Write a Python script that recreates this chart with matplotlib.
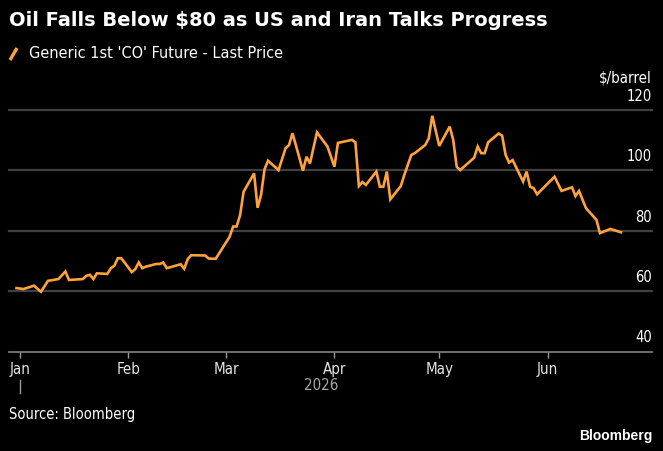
import matplotlib
matplotlib.use("Agg")
import matplotlib.pyplot as plt
import matplotlib.dates as mdates
import pandas as pd
from matplotlib.lines import Line2D

plt.rcParams['font.family'] = ['DejaVu Sans']
plt.rcParams['font.stretch'] = 'condensed'

# Brent front-month
dates = ["2025-12-31", "2026-01-02", "2026-01-05", "2026-01-07", "2026-01-09", "2026-01-12",
         "2026-01-14", "2026-01-15", "2026-01-19", "2026-01-20", "2026-01-21", "2026-01-22",
         "2026-01-23", "2026-01-26", "2026-01-27", "2026-01-28", "2026-01-29", "2026-01-30",
         "2026-02-02", "2026-02-03", "2026-02-04", "2026-02-05", "2026-02-06", "2026-02-09",
         "2026-02-10", "2026-02-11", "2026-02-12", "2026-02-16", "2026-02-17", "2026-02-18",
         "2026-02-19", "2026-02-23", "2026-02-24", "2026-02-26", "2026-03-02", "2026-03-03",
         "2026-03-04", "2026-03-05", "2026-03-06", "2026-03-09", "2026-03-10", "2026-03-11",
         "2026-03-12", "2026-03-13", "2026-03-16", "2026-03-18", "2026-03-19", "2026-03-20",
         "2026-03-23", "2026-03-24", "2026-03-25", "2026-03-27", "2026-03-30", "2026-04-01",
         "2026-04-02", "2026-04-06", "2026-04-07", "2026-04-08", "2026-04-09", "2026-04-10",
         "2026-04-13", "2026-04-14", "2026-04-15", "2026-04-16", "2026-04-17", "2026-04-20",
         "2026-04-21", "2026-04-23", "2026-04-24", "2026-04-27", "2026-04-28", "2026-04-29",
         "2026-05-01", "2026-05-04", "2026-05-05", "2026-05-06", "2026-05-07", "2026-05-11",
         "2026-05-12", "2026-05-13", "2026-05-14", "2026-05-15", "2026-05-18", "2026-05-19",
         "2026-05-20", "2026-05-21", "2026-05-22", "2026-05-25", "2026-05-26", "2026-05-27",
         "2026-05-28", "2026-05-29", "2026-06-03", "2026-06-05", "2026-06-08", "2026-06-09",
         "2026-06-10", "2026-06-12", "2026-06-15", "2026-06-16", "2026-06-19", "2026-06-22"]
prices = [61.0, 60.7, 61.8, 59.8, 63.4, 64.0,
          66.5, 63.7, 64.0, 65.1, 65.4, 64.0,
          65.9, 65.7, 67.6, 68.4, 70.9, 70.9,
          66.3, 67.3, 69.5, 67.6, 68.1, 69.0,
          69.0, 69.5, 67.6, 68.9, 67.4, 70.6,
          71.9, 71.8, 70.8, 70.7, 78.0, 81.4,
          81.4, 85.2, 92.9, 99.0, 87.6, 91.9,
          100.4, 103.2, 100.1, 107.3, 108.4, 112.3,
          99.9, 104.5, 102.3, 112.6, 107.9, 101.2,
          109.1, 110.1, 109.3, 94.8, 96.1, 95.2,
          99.6, 94.6, 94.6, 99.6, 90.4, 94.8,
          98.5, 105.1, 105.7, 108.4, 110.6, 118.1,
          108.1, 114.5, 110.1, 101.2, 100.1, 104.2,
          107.9, 105.7, 105.7, 109.3, 112.2, 111.5,
          105.1, 102.6, 103.4, 96.3, 99.6, 94.6,
          94.1, 92.1, 97.9, 93.2, 94.4, 91.5,
          93.2, 87.5, 83.6, 79.2, 80.6, 79.5]

yticks = [40, 60, 80, 100, 120]
month_ticks = ["2026-01-01", "2026-02-01", "2026-03-01", "2026-04-01", "2026-05-01", "2026-06-01"]
month_labels = ["Jan", "Feb", "Mar", "Apr", "May", "Jun"]

title = "Oil Falls Below $80 as US and Iran Talks Progress"
legend_label = "Generic 1st 'CO' Future - Last Price"

orange = "#FFA23A"
W, H = 663, 451

fig = plt.figure(figsize=(W / 100, H / 100), dpi=100, facecolor="black")
ax = fig.add_axes([9 / W, 1 - 351.5 / H, 643 / W, 241.5 / H])
ax.set_facecolor("black")

x = pd.to_datetime(dates)
ax.plot(x, prices, color=orange, lw=1.9, solid_joinstyle="miter", zorder=3)

start = mdates.date2num(pd.Timestamp("2026-01-01"))
ax.set_xlim(start - 3.15, start + 180.9)
ax.set_ylim(40, 120)

for v in yticks[1:]:
    ax.axhline(v, color="#404040", lw=1.6, zorder=1, clip_on=False)
for s in ["top", "right", "left"]:
    ax.spines[s].set_visible(False)
ax.spines["bottom"].set_color("#7a7a7a")
ax.spines["bottom"].set_linewidth(1.3)

ax.set_yticks([])
for v in yticks:
    ax.annotate(str(v), xy=(1, v), xycoords=("axes fraction", "data"),
                xytext=(0, 4.5), textcoords="offset points",
                ha="right", va="bottom", color="white", fontsize=10.5)

ax.set_xticks(pd.to_datetime(month_ticks))
ax.set_xticklabels(month_labels)
ax.tick_params(axis="x", direction="out", length=4.5, width=1, color="#9a9a9a",
               labelcolor="#e6e6e6", labelsize=10.8, pad=3)

fig.text(321 / W, 1 - 386 / H, "2026", color="#a8a8a8", fontsize=10.8, ha="center", va="center")
fig.add_artist(Line2D([20 / W, 20 / W], [1 - 380 / H, 1 - 393 / H], color="#9a9a9a", lw=1))

fig.text(9 / W, 1 - 21 / H, title, color="white", fontsize=14, fontweight="bold",
         family="DejaVu Sans", stretch="normal", ha="left", va="center")
fig.add_artist(Line2D([10 / W, 17 / W], [1 - 60 / H, 1 - 48 / H], color=orange, lw=2.4,
                      solid_capstyle="butt"))
fig.text(29 / W, 1 - 54 / H, legend_label, color="white", fontsize=11.6, ha="left", va="center")
fig.text(652 / W, 1 - 78 / H, "$/barrel", color="white", fontsize=10.8, ha="right", va="center")

fig.text(9 / W, 1 - 414 / H, "Source: Bloomberg", color="white", fontsize=10.5, ha="left", va="center")
fig.text(652 / W, 1 - 436 / H, "Bloomberg", color="white", fontsize=10, fontweight="bold",
         family="Liberation Sans", stretch="normal", ha="right", va="center")

fig.savefig("out.png", dpi=100, facecolor="black")
